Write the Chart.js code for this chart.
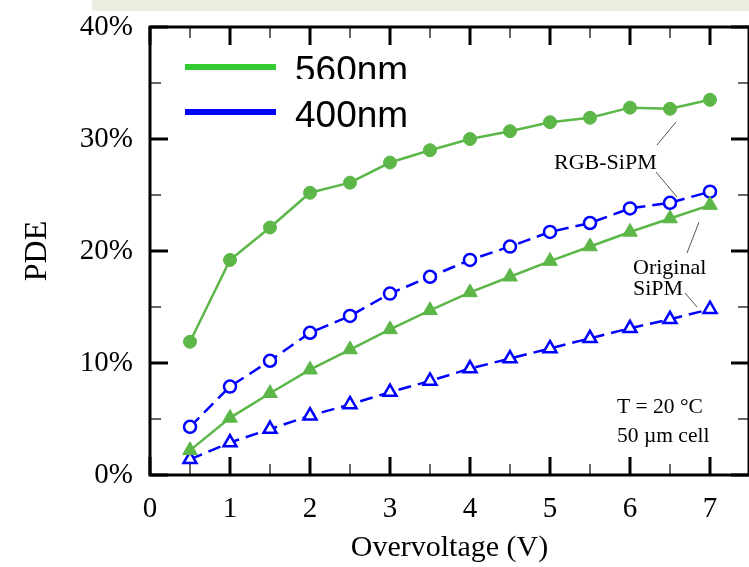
<!DOCTYPE html>
<html>
<head>
<meta charset="utf-8">
<script src="https://cdn.jsdelivr.net/npm/chart.js@4.4.0/dist/chart.umd.min.js"></script>
<style>
body { margin: 0; background: #fff; }
canvas { display: block; }
</style>
</head>
<body>
<canvas id="pde" width="749" height="567"></canvas>
<script>
// PDE vs overvoltage, RGB-SiPM vs original SiPM at two wavelengths
const overvoltage = [0.5, 1, 1.5, 2, 2.5, 3, 3.5, 4, 4.5, 5, 5.5, 6, 6.5, 7];
const rgb560 = [11.9, 19.2, 22.1, 25.2, 26.1, 27.9, 29.0, 30.0, 30.7, 31.5, 31.9, 32.8, 32.7, 33.5];
const rgb400 = [4.3, 7.9, 10.2, 12.7, 14.2, 16.2, 17.7, 19.2, 20.4, 21.7, 22.5, 23.8, 24.3, 25.3];
const orig560 = [2.2, 5.1, 7.3, 9.4, 11.2, 13.0, 14.7, 16.3, 17.7, 19.1, 20.4, 21.7, 22.9, 24.1];
const orig400 = [1.4, 2.9, 4.1, 5.3, 6.3, 7.4, 8.4, 9.5, 10.4, 11.3, 12.2, 13.1, 13.9, 14.8];

const xMajor = [0, 1, 2, 3, 4, 5, 6, 7];
const xMinor = [0.5, 1.5, 2.5, 3.5, 4.5, 5.5, 6.5, 7.5];
const yMajor = [0, 10, 20, 30, 40];
const yMinor = [5, 15, 25, 35];

const legendNames = ['560nm', '400nm'];
const legendColors = ['#33cc33', '#0000ff'];

const GREEN = '#5cb748';
const BLUE = '#0000ff';
const SERIF = '"Liberation Serif", "DejaVu Serif", serif';

function pts(ys) {
	return overvoltage.map((x, i) => ({ x: x, y: ys[i] }));
}

// keep the plot box exactly where the layout puts it
function noOverflow(s) {
	s.paddingTop = 0;
	s.paddingBottom = 0;
	s.paddingLeft = 0;
	s.paddingRight = 0;
}

const frame = {
	id: 'frame',
	beforeDraw(chart) {
		const c = chart.ctx;
		// slide title strip above the plot
		c.save();
		c.fillStyle = '#ebeee0';
		c.fillRect(92, 0, 657, 11);
		c.restore();
	},
	afterDatasetsDraw(chart) {
		const c = chart.ctx;
		const a = chart.chartArea;
		const xs = chart.scales.x, ys = chart.scales.y;
		c.save();
		c.strokeStyle = '#000';
		c.lineCap = 'butt';
		// ticks pointing inwards on all four sides
		function tick(x1, y1, x2, y2, w) {
			c.lineWidth = w;
			c.beginPath(); c.moveTo(x1, y1); c.lineTo(x2, y2); c.stroke();
		}
		xMajor.forEach(v => {
			const p = xs.getPixelForValue(v);
			tick(p, a.bottom, p, a.bottom - 18, 3);
			tick(p, a.top, p, a.top + 18, 3);
		});
		xMinor.forEach(v => {
			const p = xs.getPixelForValue(v);
			tick(p, a.bottom, p, a.bottom - 11, 1.2);
			tick(p, a.top, p, a.top + 11, 1.2);
		});
		yMajor.forEach(v => {
			const p = ys.getPixelForValue(v);
			tick(a.left, p, a.left + 18, p, 3);
			tick(a.right, p, a.right - 18, p, 3);
		});
		yMinor.forEach(v => {
			const p = ys.getPixelForValue(v);
			tick(a.left, p, a.left + 11, p, 1.2);
			tick(a.right, p, a.right - 11, p, 1.2);
		});
		c.lineWidth = 3;
		c.strokeRect(a.left, a.top, a.right - a.left, a.bottom - a.top);

		// leader lines for the curve labels
		c.strokeStyle = '#555';
		c.lineWidth = 1;
		[[676, 122, 657, 145], [656, 172, 677, 197], [699, 222, 687, 253], [685, 293, 697, 307]].forEach(l => {
			c.beginPath(); c.moveTo(l[0], l[1]); c.lineTo(l[2], l[3]); c.stroke();
		});

		c.fillStyle = '#000';
		c.textBaseline = 'alphabetic';
		c.textAlign = 'left';
		c.font = '22px ' + SERIF;
		c.fillText('RGB-SiPM', 554, 169);
		c.fillText('Original', 633, 274);
		c.fillText('SiPM', 633, 295);
		c.font = '21.5px ' + SERIF;
		c.fillText('T = 20 °C', 617, 413);
		c.fillText('50 µm cell', 617, 442);

		// wavelength legend
		c.font = '37px "Liberation Sans", Arial, sans-serif';
		legendNames.forEach((name, i) => {
			const y = 67 + i * 45;
			if (i > 0) {
				c.fillStyle = '#fff';
				c.fillRect(286, y - 33, 140, 52);
			}
			c.strokeStyle = legendColors[i];
			c.lineWidth = 6;
			c.beginPath(); c.moveTo(185, y); c.lineTo(276, y); c.stroke();
			c.fillStyle = '#000';
			c.fillText(name, 295, y + 15);
		});
		c.restore();
	}
};

const ctx = document.getElementById('pde').getContext('2d');
new Chart(ctx, {
	type: 'line',
	data: {
		datasets: [
			{
				label: 'RGB-SiPM 560nm',
				data: pts(rgb560),
				borderColor: GREEN,
				backgroundColor: GREEN,
				borderWidth: 2.5,
				pointStyle: 'circle',
				pointRadius: 6.5,
				pointBorderWidth: 1
			},
			{
				label: 'Original SiPM 560nm',
				data: pts(orig560),
				borderColor: GREEN,
				backgroundColor: GREEN,
				borderWidth: 2.5,
				pointStyle: 'triangle',
				pointRadius: 8.5,
				pointBorderWidth: 1
			},
			{
				label: 'RGB-SiPM 400nm',
				data: pts(rgb400),
				borderColor: BLUE,
				backgroundColor: '#fff',
				borderWidth: 2.5,
				borderDash: [13, 7],
				pointStyle: 'circle',
				pointRadius: 6,
				pointBorderWidth: 2.5
			},
			{
				label: 'Original SiPM 400nm',
				data: pts(orig400),
				borderColor: BLUE,
				backgroundColor: '#fff',
				borderWidth: 2.5,
				borderDash: [13, 7],
				pointStyle: 'triangle',
				pointRadius: 7.5,
				pointBorderWidth: 2.5
			}
		]
	},
	options: {
		responsive: false,
		animation: false,
		devicePixelRatio: 1,
		layout: { autoPadding: false, padding: { top: 27, right: 0, left: 0, bottom: 0 } },
		plugins: { legend: { display: false }, tooltip: { enabled: false } },
		scales: {
			x: {
				type: 'linear',
				min: 0,
				max: 7.4875,
				grid: { display: false, drawTicks: false },
				border: { display: false },
				afterBuildTicks: s => { s.ticks = xMajor.map(v => ({ value: v })); },
				afterFit: s => { s.height = 92; noOverflow(s); },
				ticks: { color: '#000', padding: 17, font: { family: SERIF, size: 29 }, maxRotation: 0 },
				title: { display: true, text: 'Overvoltage (V)', color: '#000', font: { family: SERIF, size: 30 }, padding: { top: 0, bottom: 1 } }
			},
			y: {
				min: 0,
				max: 40,
				grid: { display: false, drawTicks: false },
				border: { display: false },
				afterBuildTicks: s => { s.ticks = yMajor.map(v => ({ value: v })); },
				afterFit: s => { s.width = 150; noOverflow(s); },
				ticks: { color: '#000', padding: 17, font: { family: SERIF, size: 29 }, callback: v => v + '%' },
				title: { display: true, text: 'PDE', color: '#000', font: { family: SERIF, size: 32 }, padding: { top: 18, bottom: 0 } }
			}
		}
	},
	plugins: [frame]
});
</script>
</body>
</html>
